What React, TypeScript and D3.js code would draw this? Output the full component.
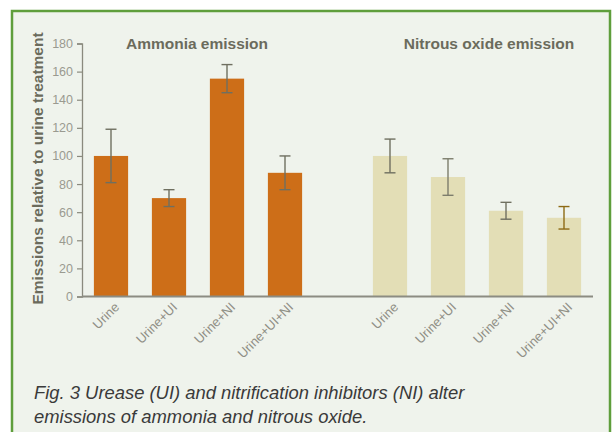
import React, { useRef, useEffect } from 'react';
import * as d3 from 'd3';

// Values (relative to urine treatment = 100)
const treatments = ['Urine', 'Urine+UI', 'Urine+NI', 'Urine+UI+NI'];
const ammoniaValues = [100, 70, 155, 88];
const ammoniaLow = [81, 64, 145, 76];
const ammoniaHigh = [119, 76, 165, 100];
const nitrousValues = [100, 85, 61, 56];
const nitrousLow = [88, 72, 55, 48];
const nitrousHigh = [112, 98, 67, 64];
const yTicks = [0, 20, 40, 60, 80, 100, 120, 140, 160, 180];

const W = 614;
const H = 432;

const App = () => {
  const svgRef = useRef<SVGSVGElement>(null);

  useEffect(() => {
    const svg = d3.select(svgRef.current);
    svg.selectAll('*').remove();

    // panel background + green frame
    svg.append('rect').attr('width', W).attr('height', H).attr('fill', '#ffffff');
    svg.append('rect')
      .attr('x', 12).attr('y', 11)
      .attr('width', 598).attr('height', H)
      .attr('fill', '#eff3ec')
      .attr('stroke', '#5f9e3c')
      .attr('stroke-width', 2.5);

    const y = d3.scaleLinear().domain([0, 180]).range([296.5, 43.5]);

    const xAmm = d3.scaleBand().domain(treatments).range([82, 314]).paddingInner(0.41).paddingOuter(0.205);
    const xNit = d3.scaleBand().domain(treatments).range([361, 593]).paddingInner(0.41).paddingOuter(0.205);

    // y axis
    const yAxis = d3.axisLeft(y).tickValues(yTicks).tickSize(5).tickPadding(4);
    const gy = svg.append('g').attr('transform', 'translate(82,0)').call(yAxis);
    gy.select('.domain').attr('stroke', '#8a8a7e').attr('stroke-width', 1.3);
    gy.selectAll('.tick line').attr('stroke', '#8a8a7e').attr('stroke-width', 1.2);
    gy.selectAll('.tick text')
      .attr('fill', '#9a9a90')
      .style('font-family', '"Liberation Sans", Arial, sans-serif')
      .style('font-size', '12.5px');

    const groups = [
      { x: xAmm, values: ammoniaValues, lo: ammoniaLow, hi: ammoniaHigh, color: '#cd6e18', err: ['#6f6f60', '#6f6f60', '#6f6f60', '#6f6f60'] },
      { x: xNit, values: nitrousValues, lo: nitrousLow, hi: nitrousHigh, color: '#e3deb6', err: ['#6f6f60', '#7d7d6c', '#6f6f60', '#8d6a14'] },
    ];

    groups.forEach(grp => {
      const g = svg.append('g');
      g.selectAll('rect.bar')
        .data(treatments)
        .enter()
        .append('rect')
        .attr('class', 'bar')
        .attr('x', d => grp.x(d)!)
        .attr('width', grp.x.bandwidth())
        .attr('y', (d, i) => y(grp.values[i]))
        .attr('height', (d, i) => y(0) - y(grp.values[i]))
        .attr('fill', grp.color);

      treatments.forEach((t, i) => {
        const cx = grp.x(t)! + grp.x.bandwidth() / 2;
        const c = grp.err[i];
        g.append('line').attr('x1', cx).attr('x2', cx).attr('y1', y(grp.lo[i])).attr('y2', y(grp.hi[i]))
          .attr('stroke', c).attr('stroke-width', 1.4);
        [grp.lo[i], grp.hi[i]].forEach(v => {
          g.append('line').attr('x1', cx - 5.5).attr('x2', cx + 5.5).attr('y1', y(v)).attr('y2', y(v))
            .attr('stroke', c).attr('stroke-width', 1.4);
        });
        g.append('text')
          .attr('transform', `translate(${cx + 9},${308}) rotate(-45)`)
          .attr('text-anchor', 'end')
          .attr('fill', '#8f8f86')
          .style('font-family', '"Liberation Sans", Arial, sans-serif')
          .style('font-size', '13px')
          .text(t);
      });
    });

    // x axis baseline
    svg.append('line')
      .attr('x1', 82).attr('x2', 593)
      .attr('y1', y(0)).attr('y2', y(0))
      .attr('stroke', '#8c8c82').attr('stroke-width', 2);

    // group titles
    const titleStyle = (sel: any) => sel
      .attr('fill', '#6b6b5c')
      .style('font-family', '"Liberation Sans", Arial, sans-serif')
      .style('font-size', '15.5px')
      .style('font-weight', 'bold');
    svg.append('text').attr('x', 197).attr('y', 49).attr('text-anchor', 'middle')
      .call(titleStyle).text('Ammonia emission');
    svg.append('text').attr('x', 489).attr('y', 49).attr('text-anchor', 'middle')
      .call(titleStyle).text('Nitrous oxide emission');

    // y axis label
    svg.append('text')
      .attr('transform', 'translate(43,168.5) rotate(-90)')
      .attr('text-anchor', 'middle')
      .attr('fill', '#6b6b5c')
      .style('font-family', '"Liberation Sans", Arial, sans-serif')
      .style('font-size', '15.5px')
      .style('font-weight', 'bold')
      .text('Emissions relative to urine treatment');

    // caption
    const cap = svg.append('text')
      .attr('fill', '#3a3a3a')
      .style('font-family', '"Liberation Sans", Arial, sans-serif')
      .style('font-size', '18.4px')
      .style('font-style', 'italic');
    cap.append('tspan').attr('x', 34).attr('y', 399).text('Fig. 3 Urease (UI) and nitrification inhibitors (NI) alter');
    cap.append('tspan').attr('x', 34).attr('y', 423).text('emissions of ammonia and nitrous oxide.');
  }, []);

  return (
    <svg
      ref={svgRef}
      width={W}
      height={H}
      style={{ position: 'absolute', left: 0, top: 0, display: 'block' }}
    />
  );
};

export default App;
